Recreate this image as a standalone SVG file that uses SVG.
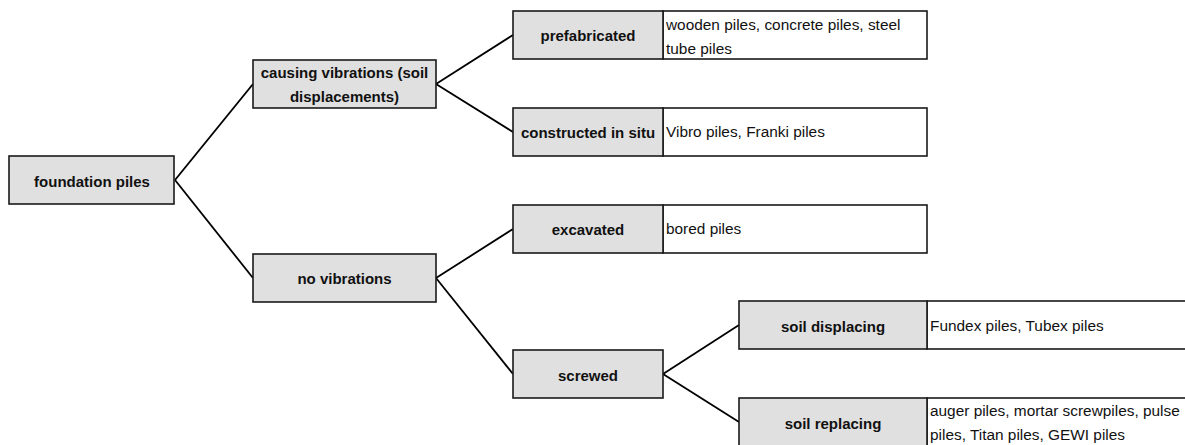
<svg xmlns="http://www.w3.org/2000/svg" width="1185" height="445" viewBox="0 0 1185 445">
  <style>
    .cat { fill: #e0e0e0; stroke: #1a1a1a; stroke-width: 1.6; }
    .list { fill: #ffffff; stroke: #1a1a1a; stroke-width: 1.6; }
    .link { fill: none; stroke: #000000; stroke-width: 1.8; }
    .lbl { font-family: "Liberation Sans", Arial, sans-serif; font-size: 15px; font-weight: bold; fill: #111111; text-anchor: middle; }
    .txt { font-family: "Liberation Sans", Arial, sans-serif; font-size: 15.4px; fill: #111111; }
  </style>
  <rect width="1185" height="445" fill="#ffffff"/>

  <!-- connectors -->
  <g id="connectors">
    <line class="link" x1="175" y1="180" x2="253" y2="84"/>
    <line class="link" x1="175" y1="180" x2="253" y2="278"/>
    <line class="link" x1="436" y1="84" x2="513" y2="35"/>
    <line class="link" x1="436" y1="84" x2="513" y2="132"/>
    <line class="link" x1="436" y1="278" x2="513" y2="229"/>
    <line class="link" x1="436" y1="278" x2="513" y2="374"/>
    <line class="link" x1="663" y1="374" x2="739" y2="325"/>
    <line class="link" x1="663" y1="374" x2="739" y2="422"/>
  </g>

  <g id="foundation-piles">
    <rect class="cat" x="9" y="156" width="165" height="48"/>
    <text class="lbl" x="92" y="187">foundation piles</text>
  </g>

  <g id="causing-vibrations">
    <rect class="cat" x="253" y="60" width="183" height="48"/>
    <text class="lbl" x="344.5" y="78">causing vibrations (soil</text>
    <text class="lbl" x="344.5" y="102">displacements)</text>
  </g>

  <g id="no-vibrations">
    <rect class="cat" x="253" y="254" width="183" height="48"/>
    <text class="lbl" x="344.5" y="284">no vibrations</text>
  </g>

  <g id="prefabricated">
    <rect class="list" x="663" y="11" width="264" height="48"/>
    <rect class="cat" x="513" y="11" width="150" height="48"/>
    <text class="lbl" x="588" y="41">prefabricated</text>
    <text class="txt" x="666" y="30">wooden piles, concrete piles, steel</text>
    <text class="txt" x="666" y="54">tube piles</text>
  </g>

  <g id="constructed-in-situ">
    <rect class="list" x="663" y="108" width="264" height="48"/>
    <rect class="cat" x="513" y="108" width="150" height="48"/>
    <text class="lbl" x="588" y="138">constructed in situ</text>
    <text class="txt" x="666" y="137">Vibro piles, Franki piles</text>
  </g>

  <g id="excavated">
    <rect class="list" x="663" y="205" width="264" height="48"/>
    <rect class="cat" x="513" y="205" width="150" height="48"/>
    <text class="lbl" x="588" y="235">excavated</text>
    <text class="txt" x="666" y="234">bored piles</text>
  </g>

  <g id="screwed">
    <rect class="cat" x="513" y="350" width="150" height="48"/>
    <text class="lbl" x="588" y="381">screwed</text>
  </g>

  <g id="soil-displacing">
    <rect class="list" x="927" y="301" width="270" height="48"/>
    <rect class="cat" x="739" y="301" width="188" height="48"/>
    <text class="lbl" x="833" y="332">soil displacing</text>
    <text class="txt" x="930" y="331">Fundex piles, Tubex piles</text>
  </g>

  <g id="soil-replacing">
    <rect class="list" x="927" y="398" width="270" height="48"/>
    <rect class="cat" x="739" y="398" width="188" height="48"/>
    <text class="lbl" x="833" y="429">soil replacing</text>
    <text class="txt" x="930" y="416">auger piles, mortar screwpiles, pulse</text>
    <text class="txt" x="930" y="440">piles, Titan piles, GEWI piles</text>
  </g>
</svg>
